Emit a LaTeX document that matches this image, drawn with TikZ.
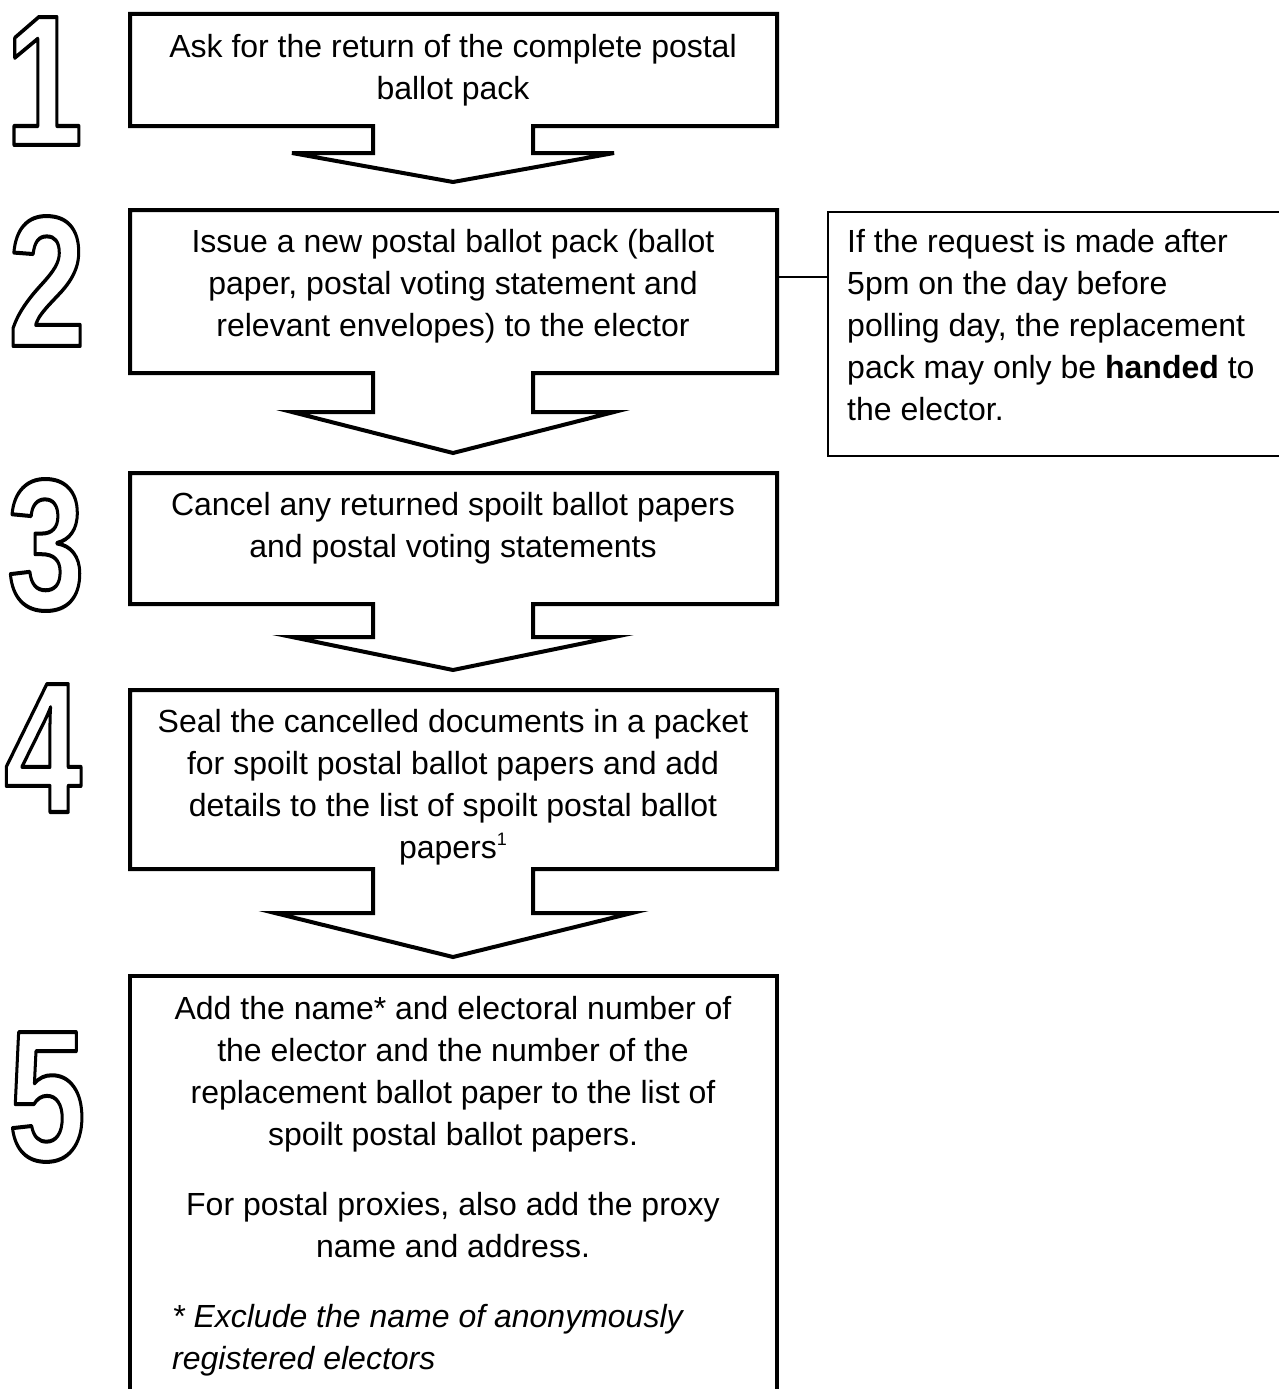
\documentclass[tikz,border=0pt]{standalone}
\usepackage{fontspec}
\setmainfont{Liberation Sans}
\newcommand{\outlinetext}[1]{\special{pdf:literal direct 1 Tr 4 w 1 j}#1\special{pdf:literal direct 0 Tr}}
\newcommand{\supone}{\raisebox{13pt}{\fontsize{18}{18}\selectfont 1}}
\tikzset{
  flowshape/.style={draw=black, line width=4pt, line join=miter},
  boxtext/.style={font=\fontsize{32}{42}\selectfont, align=center, inner sep=0pt, anchor=north},
  lefttext/.style={font=\fontsize{32}{42}\selectfont, align=left, inner sep=0pt, anchor=north west},
  digit/.style={font=\fontsize{186}{186}\selectfont\bfseries, inner sep=0pt},
  notebox/.style={draw=black, line width=2pt, inner sep=0pt, anchor=north west},
  link/.style={draw=black, line width=1.5pt},
}
\begin{document}
\begin{tikzpicture}[x=1pt,y=-1pt]
\useasboundingbox (0,0) rectangle (1279,1389);
\clip (0,0) rectangle (1279,1389);

% step shapes
\draw[flowshape] (130,14) -- (777,14) -- (777,126) -- (533,126) -- (533,153) -- (614,153) -- (453,182) -- (292,153) -- (373,153) -- (373,126) -- (130,126) -- cycle;
\draw[flowshape] (130,210) -- (777,210) -- (777,373) -- (533,373) -- (533,412) -- (614,412) -- (453,453) -- (292,412) -- (373,412) -- (373,373) -- (130,373) -- cycle;
\draw[flowshape] (130,473) -- (777,473) -- (777,604) -- (533,604) -- (533,637) -- (614,637) -- (453,670) -- (292,637) -- (373,637) -- (373,604) -- (130,604) -- cycle;
\draw[flowshape] (130,690) -- (777,690) -- (777,869) -- (533,869) -- (533,913) -- (632,913) -- (453,957) -- (275,913) -- (373,913) -- (373,869) -- (130,869) -- cycle;
\draw[flowshape] (130,1420) -- (130,976) -- (777,976) -- (777,1420);

% texts
\node[boxtext] (t1) at (453,32) {\rule{0pt}{25pt}Ask for the return of the complete postal\\ballot pack};
\node[boxtext] (t2) at (453,227) {\rule{0pt}{25pt}Issue a new postal ballot pack (ballot\\paper, postal voting statement and\\relevant envelopes) to the elector};
\node[boxtext] (t3) at (453,490) {\rule{0pt}{25pt}Cancel any returned spoilt ballot papers\\and postal voting statements};
\node[boxtext] (t4) at (453,707) {\rule{0pt}{25pt}Seal the cancelled documents in a packet\\for spoilt postal ballot papers and add\\details to the list of spoilt postal ballot\\papers\supone};
\node[boxtext] (t5) at (453,994) {\rule{0pt}{25pt}Add the name* and electoral number of\\the elector and the number of the\\replacement ballot paper to the list of\\spoilt postal ballot papers.\\[28pt]For postal proxies, also add the proxy\\name and address.};
\node[lefttext] (t5i) at (172,1302) {\rule{0pt}{25pt}\itshape * Exclude the name of anonymously\\\itshape registered electors};

% note
\node[notebox, minimum width=480pt, minimum height=244pt] (note) at (827,211) {};
\node[lefttext] (notetext) at (847,227) {\rule{0pt}{25pt}If the request is made after\\5pm on the day before\\polling day, the replacement\\pack may only be \textbf{handed} to\\the elector.};
\coordinate (b2r) at (777,277);
\draw[link] (b2r) -- (b2r -| note.west);

% step numbers
\node[digit] (n1) at (44,81) {\scalebox{0.75}[1]{\outlinetext{1}}};
\node[digit] (n2) at (47,281) {\scalebox{0.75}[1]{\outlinetext{2}}};
\node[digit] (n3) at (46,545) {\scalebox{0.75}[1]{\outlinetext{3}}};
\node[digit] (n4) at (43,748) {\scalebox{0.75}[1]{\outlinetext{4}}};
\node[digit] (n5) at (47,1097) {\scalebox{0.75}[1]{\outlinetext{5}}};
\end{tikzpicture}
\end{document}
